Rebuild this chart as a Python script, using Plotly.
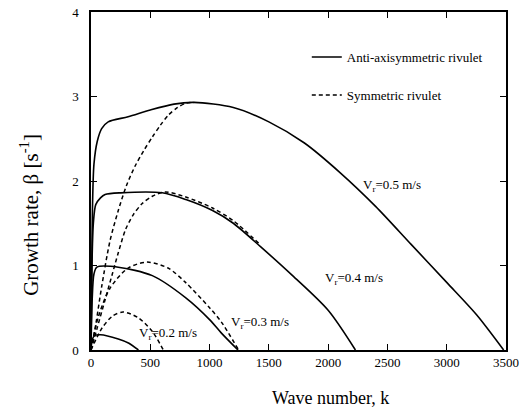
import plotly.graph_objects as go

# Vr = 0.5 m/s
k_a05 = [0, 8, 12, 25, 53, 90, 145, 313, 500, 700, 870, 1200, 1500, 1800, 2100, 2400, 2700, 3000, 3250, 3480]
b_a05 = [0, 1.2, 1.65, 2.2, 2.47, 2.62, 2.7, 2.76, 2.84, 2.91, 2.93, 2.87, 2.7, 2.45, 2.1, 1.7, 1.25, 0.8, 0.42, 0]
k_s05 = [0, 40, 90, 160, 230, 300, 373, 445, 517, 585, 653, 730, 800, 870]
b_s05 = [0, 0.3, 0.75, 1.29, 1.65, 1.95, 2.18, 2.36, 2.52, 2.66, 2.78, 2.87, 2.92, 2.93]

# Vr = 0.4 m/s
k_a04 = [0, 8, 20, 40, 80, 119, 250, 600, 800, 1025, 1200, 1432, 1700, 2000, 2230]
b_a04 = [0, 1.0, 1.5, 1.72, 1.8, 1.84, 1.86, 1.86, 1.78, 1.65, 1.5, 1.22, 0.88, 0.47, 0]
k_s04 = [0, 50, 120, 180, 230, 290, 356, 430, 517, 627, 800, 1025, 1200, 1432]
b_s04 = [0, 0.25, 0.6, 0.9, 1.15, 1.42, 1.6, 1.73, 1.82, 1.87, 1.81, 1.68, 1.53, 1.24]

# Vr = 0.3 m/s
k_a03 = [0, 10, 25, 50, 230, 517, 797, 1000, 1100, 1240]
b_a03 = [0, 0.6, 0.9, 0.98, 0.98, 0.88, 0.62, 0.36, 0.2, 0]
k_s03 = [0, 59, 160, 313, 475, 650, 797, 1000, 1100, 1245]
b_s03 = [0, 0.38, 0.73, 0.97, 1.04, 0.97, 0.8, 0.5, 0.33, 0]

# Vr = 0.2 m/s
k_a02 = [0, 10, 30, 80, 230, 320, 400]
b_a02 = [0, 0.12, 0.17, 0.18, 0.13, 0.08, 0]
k_s02 = [0, 93, 180, 270, 400, 517, 610]
b_s02 = [0, 0.26, 0.4, 0.45, 0.38, 0.22, 0]

x_ticks = [0, 500, 1000, 1500, 2000, 2500, 3000, 3500]
x_ticklabels = ["0", "500", "1000", "1500", "2000", "2500", "3000", "3500"]
y_ticks = [0, 1, 2, 3, 4]

labels = ["V<sub>r</sub>=0.5 m/s", "V<sub>r</sub>=0.4 m/s", "V<sub>r</sub>=0.3 m/s", "V<sub>r</sub>=0.2 m/s"]
label_k = [2280, 1960, 1160, 390]
label_b = [1.95, 0.85, 0.33, 0.2]

FONT = "Liberation Serif, Times New Roman, serif"
fig = go.Figure()

solid = dict(color="black", width=1.6)
dashed = dict(color="black", width=1.5, dash="4px,3px")

series = [(k_a05, b_a05, k_s05, b_s05), (k_a04, b_a04, k_s04, b_s04),
          (k_a03, b_a03, k_s03, b_s03), (k_a02, b_a02, k_s02, b_s02)]
for i, (ka, ba, ks, bs) in enumerate(series):
    fig.add_trace(go.Scatter(x=ka, y=ba, mode="lines", line=dict(**solid, shape="spline", smoothing=0.8),
                             name="Anti-axisymmetric rivulet", legendgroup="a", showlegend=(i == 0)))
    fig.add_trace(go.Scatter(x=ks, y=bs, mode="lines", line=dict(**dashed, shape="spline", smoothing=0.8),
                             name="Symmetric rivulet", legendgroup="s", showlegend=(i == 0)))

for t, xk, yb in zip(labels, label_k, label_b):
    fig.add_annotation(x=xk, y=yb, text=t, showarrow=False, xanchor="left", yanchor="middle",
                       font=dict(family=FONT, size=13, color="black"))

# axis titles
fig.add_annotation(xref="paper", yref="paper", x=-0.147, y=0.40, text="Growth rate, β [s<sup>-1</sup>]",
                   textangle=-90, showarrow=False, xanchor="center", yanchor="middle",
                   font=dict(family=FONT, size=21, color="black"))
fig.add_annotation(xref="paper", yref="paper", x=0.578, y=-0.142, text="Wave number, k",
                   showarrow=False, xanchor="center", yanchor="middle",
                   font=dict(family=FONT, size=18, color="black"))

axis_common = dict(showline=True, linecolor="black", linewidth=1.5, mirror="ticks", ticks="inside",
                   ticklen=6, tickwidth=1.2, tickcolor="black", showgrid=False, zeroline=False,
                   automargin=False, tickfont=dict(family=FONT, size=13, color="black"))

fig.update_layout(
    width=524, height=416,
    margin=dict(l=91, r=18, t=12, b=66),
    paper_bgcolor="white", plot_bgcolor="white",
    font=dict(family=FONT, color="black"),
    xaxis=dict(range=[0, 3500], tickvals=x_ticks, ticktext=x_ticklabels, **axis_common),
    yaxis=dict(range=[0, 4], tickvals=y_ticks, ticklabelstandoff=8, **axis_common),
    legend=dict(x=0.52, y=0.911, xanchor="left", yanchor="top", bgcolor="rgba(0,0,0,0)",
                font=dict(family=FONT, size=13, color="black"), tracegroupgap=18, itemwidth=30),
    showlegend=True,
)

fig.write_html("out.html", config={"displayModeBar": False},
               post_script="document.body.style.margin='0';document.body.style.overflow='hidden';")
